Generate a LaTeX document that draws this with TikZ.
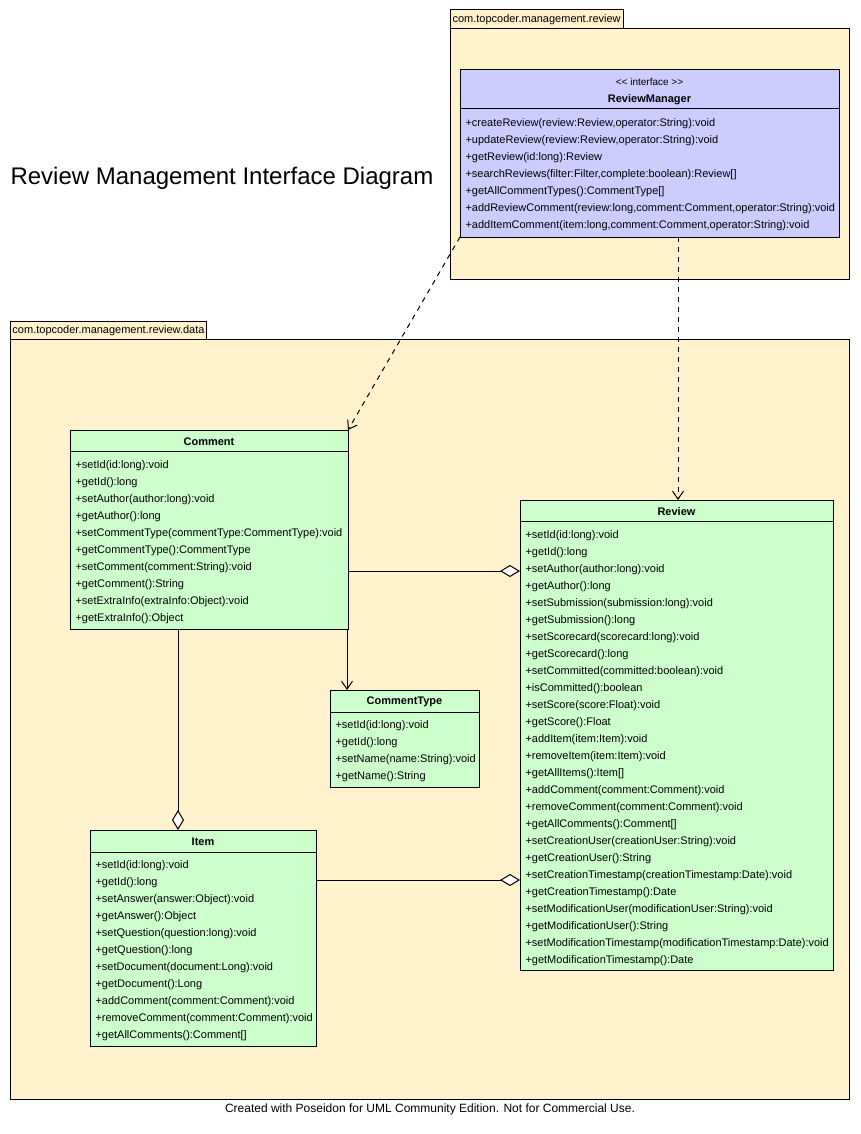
\documentclass[tikz,border=0pt]{standalone}
\usepackage{fontspec}
\setmainfont{Liberation Sans}
\usetikzlibrary{arrows.meta}
\definecolor{pkgfill}{RGB}{255,242,204}
\definecolor{clsfill}{RGB}{204,255,204}
\definecolor{ifcfill}{RGB}{204,204,255}
\newcommand{\mlist}[4]{\foreach \m [count=\i from 0] in {#3}{\node[meth] (#4-\i) at (#1,#2+17*\i) {\m};}}
\begin{document}
\begin{tikzpicture}[x=1pt,y=-1pt,line width=1pt,
  pkg/.style={draw=black,fill=pkgfill},
  box/.style={draw=black,anchor=north west,inner sep=0pt,outer sep=0pt},
  cls/.style={box,fill=clsfill},
  ifc/.style={box,fill=ifcfill},
  meth/.style={anchor=west,inner sep=0pt,font=\fontsize{11}{13}\selectfont},
  cname/.style={inner sep=0pt,font=\fontsize{11}{13}\selectfont\bfseries},
  pkgtext/.style={anchor=west,inner sep=0pt,font=\fontsize{11}{13}\selectfont},
  dep/.style={dashed,dash pattern=on 5pt off 5pt,-{Straight Barb[length=8pt,width=11pt]}},
  nav/.style={-{Straight Barb[length=8pt,width=11pt]}},
  agg/.style={-{Diamond[length=20pt,width=12pt,fill=white]}}]
\useasboundingbox (0,0) rectangle (860,1134);
\fill[white] (0,0) rectangle (860,1134);
% package review
\draw[pkg] (450,10) rectangle (623,29);
\node[pkgtext] (p1t) at (452,20) {com.topcoder.management.review};
\draw[pkg] (450,29) rectangle (849,279);
% package data
\draw[pkg] (10,321) rectangle (206,339);
\node[pkgtext] (p2t) at (12,331) {com.topcoder.management.review.data};
\draw[pkg] (10,339) rectangle (849,1099);
% title
\node[anchor=west,inner sep=0pt,font=\fontsize{24}{28}\selectfont] (title) at (10,178) {Review Management Interface Diagram};
% ReviewManager
\node[ifc,minimum width=379pt,minimum height=167pt] (rm) at (460,70) {};
\draw (460,109) -- (839,109);
\node[inner sep=0pt,font=\fontsize{10}{12}\selectfont] (rmst) at (649.5,82) {{<}{<} interface {>}{>}};
\node[cname] (rmn) at (649.5,100) {ReviewManager};
\mlist{465}{123.5}{{+createReview(review:Review,operator:String):void},{+updateReview(review:Review,operator:String):void},{+getReview(id:long):Review},{+searchReviews(filter:Filter,complete:boolean):Review[]},{+getAllCommentTypes():CommentType[]},{+addReviewComment(review:long,comment:Comment,operator:String):void},{+addItemComment(item:long,comment:Comment,operator:String):void}}{rmm}
% Comment
\node[cls,minimum width=278pt,minimum height=199pt] (comment) at (70,430) {};
\draw (70,451) -- (348,451);
\node[cname] (commentn) at (209,442) {Comment};
\mlist{75}{465.5}{{+setId(id:long):void},{+getId():long},{+setAuthor(author:long):void},{+getAuthor():long},{+setCommentType(commentType:CommentType):void},{+getCommentType():CommentType},{+setComment(comment:String):void},{+getComment():String},{+setExtraInfo(extraInfo:Object):void},{+getExtraInfo():Object}}{cm}
% Review
\node[cls,minimum width=313pt,minimum height=470pt] (review) at (520,500) {};
\draw (520,521) -- (833,521);
\node[cname] (reviewn) at (676.5,512) {Review};
\mlist{525}{535.5}{{+setId(id:long):void},{+getId():long},{+setAuthor(author:long):void},{+getAuthor():long},{+setSubmission(submission:long):void},{+getSubmission():long},{+setScorecard(scorecard:long):void},{+getScorecard():long},{+setCommitted(committed:boolean):void},{+isCommitted():boolean},{+setScore(score:Float):void},{+getScore():Float},{+addItem(item:Item):void},{+removeItem(item:Item):void},{+getAllItems():Item[]},{+addComment(comment:Comment):void},{+removeComment(comment:Comment):void},{+getAllComments():Comment[]},{+setCreationUser(creationUser:String):void},{+getCreationUser():String},{+setCreationTimestamp(creationTimestamp:Date):void},{+getCreationTimestamp():Date},{+setModificationUser(modificationUser:String):void},{+getModificationUser():String},{+setModificationTimestamp(modificationTimestamp:Date):void},{+getModificationTimestamp():Date}}{rv}
% CommentType
\node[cls,minimum width=149pt,minimum height=97pt] (ctype) at (330,690) {};
\draw (330,712) -- (479,712);
\node[cname] (ctypen) at (404.5,702) {CommentType};
\mlist{335}{725.5}{{+setId(id:long):void},{+getId():long},{+setName(name:String):void},{+getName():String}}{ct}
% Item
\node[cls,minimum width=226pt,minimum height=216pt] (item) at (90,830) {};
\draw (90,852) -- (316,852);
\node[cname] (itemn) at (203,842) {Item};
\mlist{95}{865.5}{{+setId(id:long):void},{+getId():long},{+setAnswer(answer:Object):void},{+getAnswer():Object},{+setQuestion(question:long):void},{+getQuestion():long},{+setDocument(document:Long):void},{+getDocument():Long},{+addComment(comment:Comment):void},{+removeComment(comment:Comment):void},{+getAllComments():Comment[]}}{it}
% connectors
\coordinate (rmb) at ([xshift=28.5pt]rm.south);
\draw[dep] (rmb) -- (rmb |- review.north);
\draw[dep] (rm.south west) -- (comment.north east);
\coordinate (c1) at ([yshift=-41.5pt]comment.east);
\draw[agg] (c1) -- (c1 -| review.west);
\coordinate (c2) at ([xshift=-31pt]comment.south);
\draw[agg] (c2) -- (c2 |- item.north);
\coordinate (c3) at ([xshift=-1pt]comment.south east);
\draw[nav] (c3) -- (c3 |- ctype.north);
\coordinate (c4) at ([yshift=58pt]item.east);
\draw[agg] (c4) -- (c4 -| review.west);
% footer
\node[inner sep=0pt,font=\fontsize{12}{14}\selectfont] (footer) at (430,1109) {Created with Poseidon for UML Community Edition. Not for Commercial Use.};
\end{tikzpicture}
\end{document}
